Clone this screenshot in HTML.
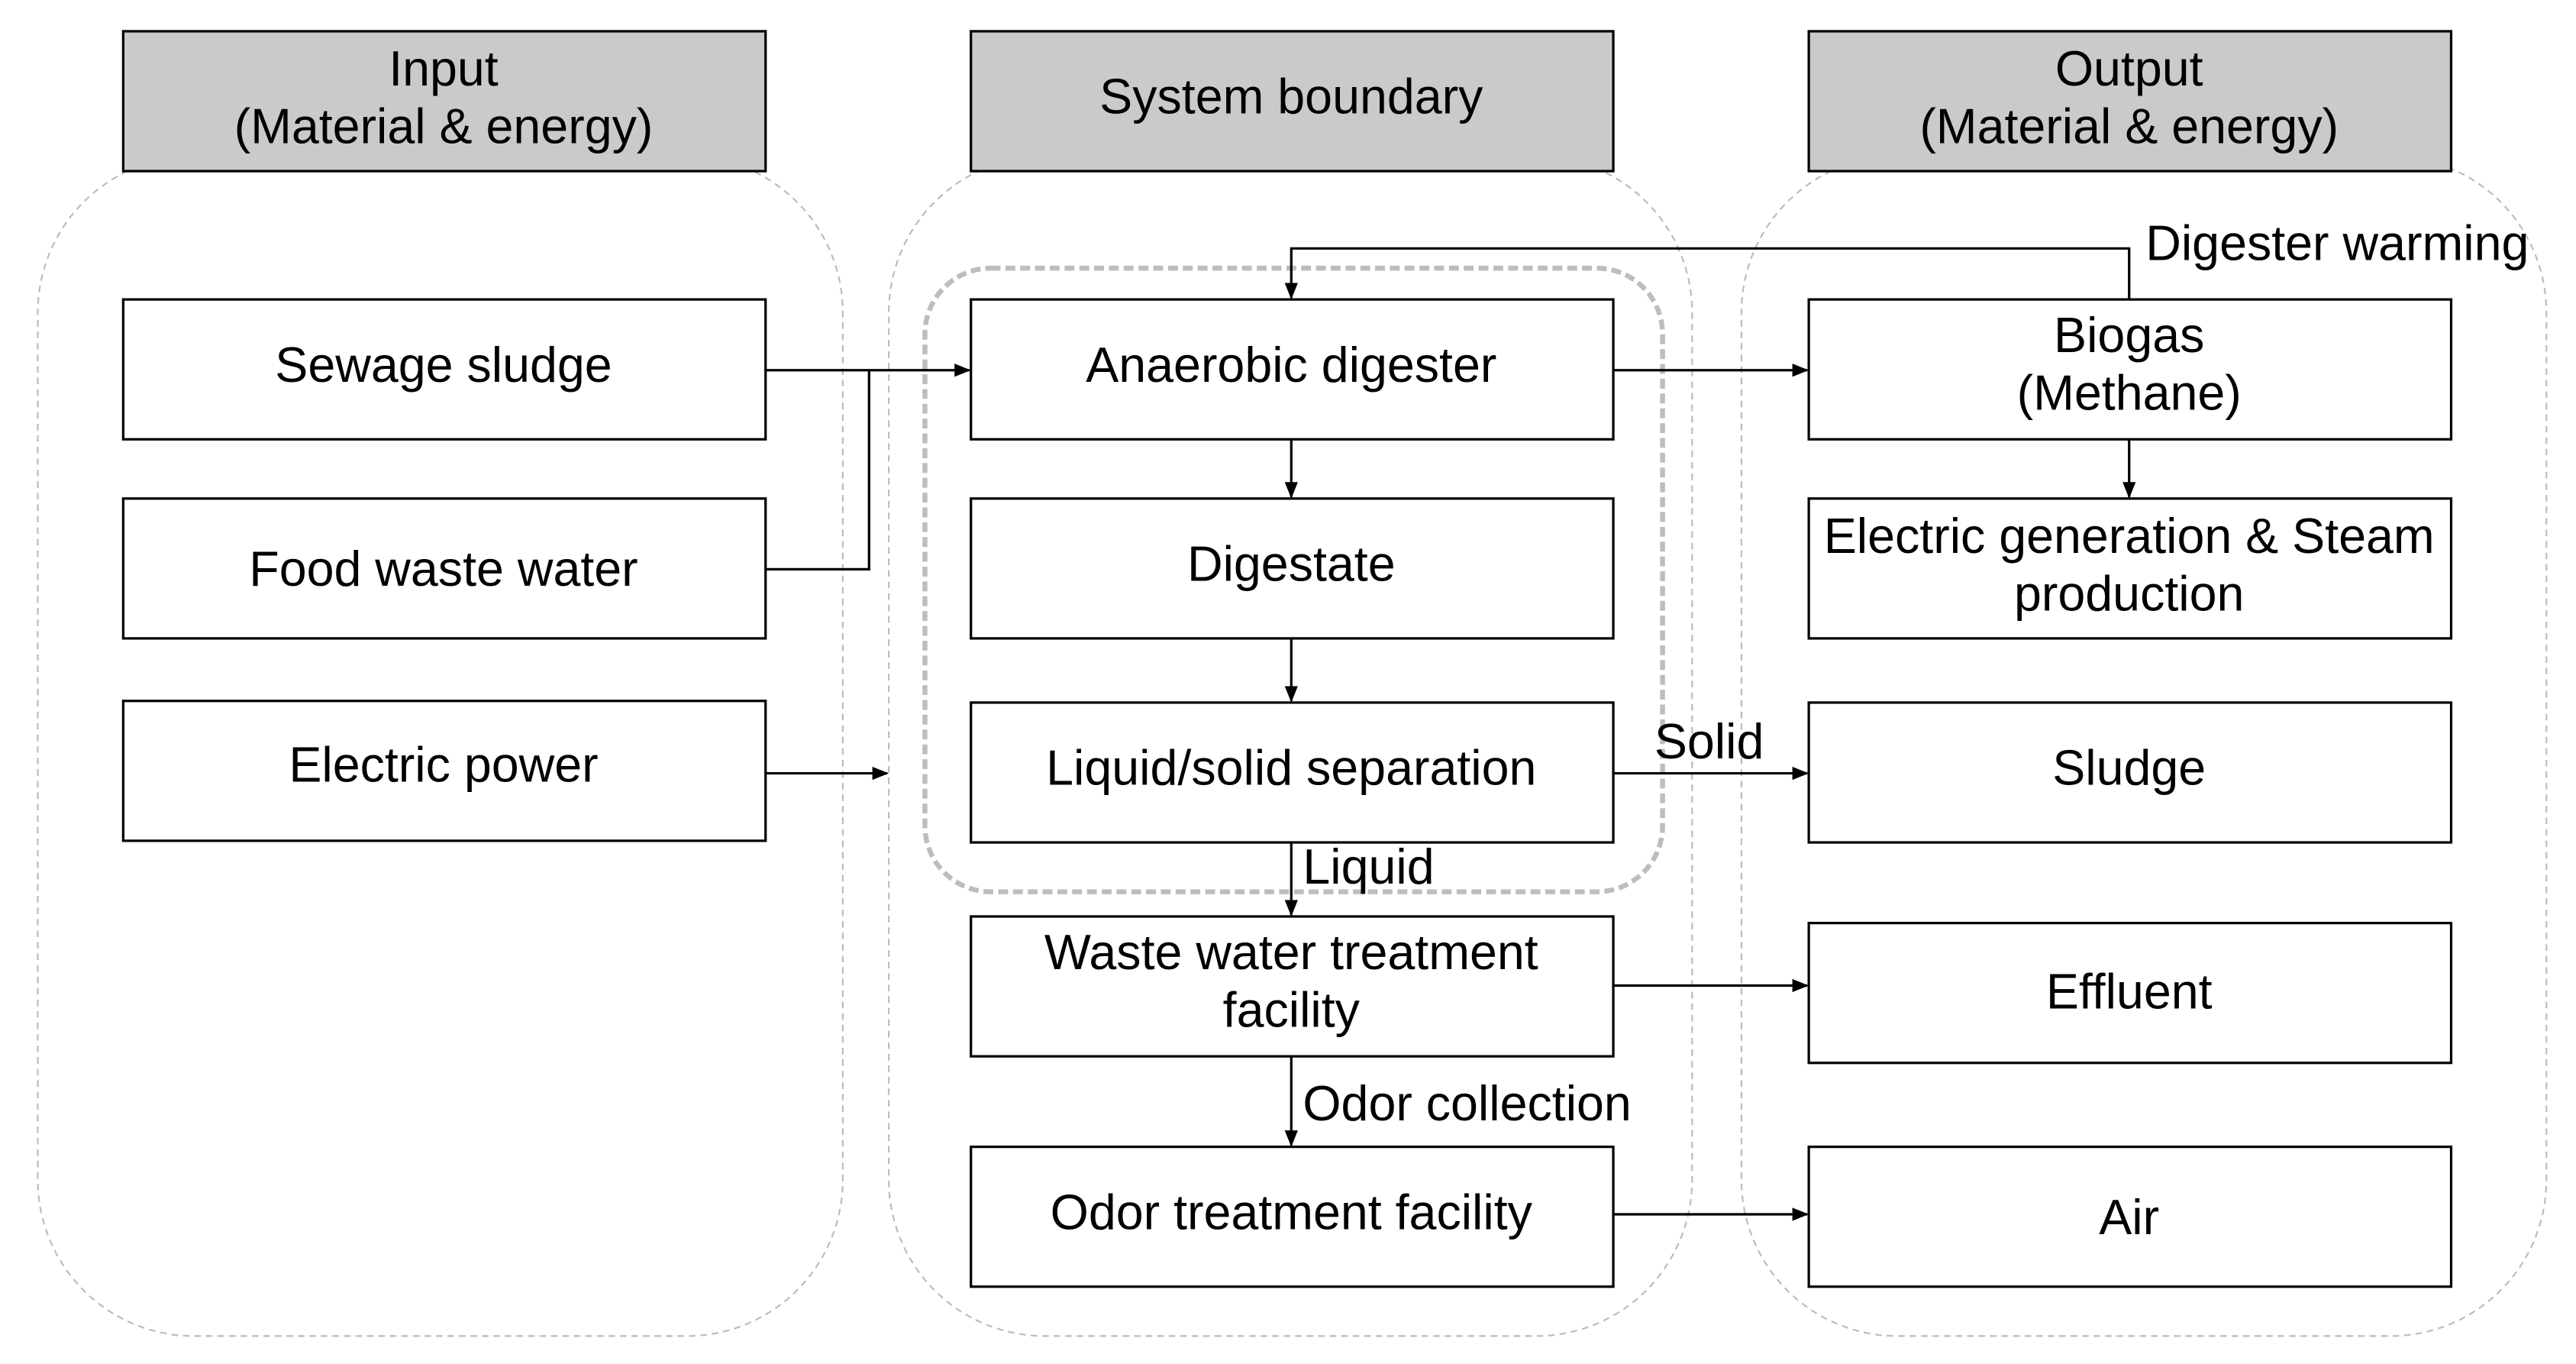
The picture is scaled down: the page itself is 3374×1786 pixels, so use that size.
<!DOCTYPE html>
<html><head><meta charset="utf-8"><style>
html,body{margin:0;padding:0;background:#fff;}
svg{display:block;}
text{font-family:"Liberation Sans",Arial,sans-serif;font-size:30px;fill:#000;text-anchor:middle;}
.l{text-anchor:start;}
</style></head><body>
<svg width="3374" height="1786" viewBox="0 0 1568 829" preserveAspectRatio="none" xmlns="http://www.w3.org/2000/svg">
<defs>
<marker id="a" markerWidth="10" markerHeight="8" refX="9" refY="4" orient="auto" markerUnits="userSpaceOnUse">
<path d="M0,0 L10,4 L0,8 Z" fill="#000"/></marker>
</defs>
<g fill="none" stroke="#bbb" stroke-width="1" stroke-dasharray="4,3">
<rect x="23" y="95" width="490" height="717" rx="95" ry="95"/>
<rect x="541" y="95" width="489" height="717" rx="95" ry="95"/>
<rect x="1060" y="95" width="490" height="717" rx="95" ry="95"/>
</g>
<rect x="563" y="163" width="449" height="379" rx="40" ry="40" fill="none" stroke="#bdbdbd" stroke-width="3" stroke-dasharray="6,3"/>
<g stroke="#000" stroke-width="1.5">
<rect x="75" y="19" width="391" height="85" fill="#cacaca"/>
<rect x="591" y="19" width="391" height="85" fill="#cacaca"/>
<rect x="1101" y="19" width="391" height="85" fill="#cacaca"/>
<g fill="#fff">
<rect x="75" y="182" width="391" height="85"/>
<rect x="75" y="303" width="391" height="85"/>
<rect x="75" y="426" width="391" height="85"/>
<rect x="591" y="182" width="391" height="85"/>
<rect x="591" y="303" width="391" height="85"/>
<rect x="591" y="427" width="391" height="85"/>
<rect x="591" y="557" width="391" height="85"/>
<rect x="591" y="697" width="391" height="85"/>
<rect x="1101" y="182" width="391" height="85"/>
<rect x="1101" y="303" width="391" height="85"/>
<rect x="1101" y="427" width="391" height="85"/>
<rect x="1101" y="561" width="391" height="85"/>
<rect x="1101" y="697" width="391" height="85"/>
</g>
</g>
<path d="M466,346 H529 V225" stroke="#000" stroke-width="1.5" fill="none"/>
<g stroke="#000" stroke-width="1.5" fill="none" marker-end="url(#a)">
<path d="M466,225 H590"/>
<path d="M466,470 H540"/>
<path d="M982,225 H1100"/>
<path d="M1296,182 V151 H786 V181"/>
<path d="M786,267 V302"/>
<path d="M786,388 V426"/>
<path d="M786,512 V556"/>
<path d="M786,642 V696"/>
<path d="M1296,267 V302"/>
<path d="M982,470 H1100"/>
<path d="M982,599 H1100"/>
<path d="M982,738 H1100"/>
</g>
<text x="270" y="52">Input</text>
<text x="270" y="87">(Material &amp; energy)</text>
<text x="786" y="69">System boundary</text>
<text x="1296" y="52">Output</text>
<text x="1296" y="87">(Material &amp; energy)</text>
<text x="270" y="232">Sewage sludge</text>
<text x="270" y="356">Food waste water</text>
<text x="270" y="475">Electric power</text>
<text x="786" y="232">Anaerobic digester</text>
<text x="786" y="353">Digestate</text>
<text x="786" y="477">Liquid/solid separation</text>
<text x="786" y="589">Waste water treatment</text>
<text x="786" y="624">facility</text>
<text x="786" y="747">Odor treatment facility</text>
<text x="1296" y="214">Biogas</text>
<text x="1296" y="249">(Methane)</text>
<text x="1296" y="336">Electric generation &amp; Steam</text>
<text x="1296" y="371">production</text>
<text x="1296" y="477">Sludge</text>
<text x="1296" y="613">Effluent</text>
<text x="1296" y="750">Air</text>
<text class="l" x="1306" y="158">Digester warming</text>
<text class="l" x="1007" y="461">Solid</text>
<text class="l" x="793" y="537">Liquid</text>
<text class="l" x="793" y="681">Odor collection</text>
</svg>
</body></html>
